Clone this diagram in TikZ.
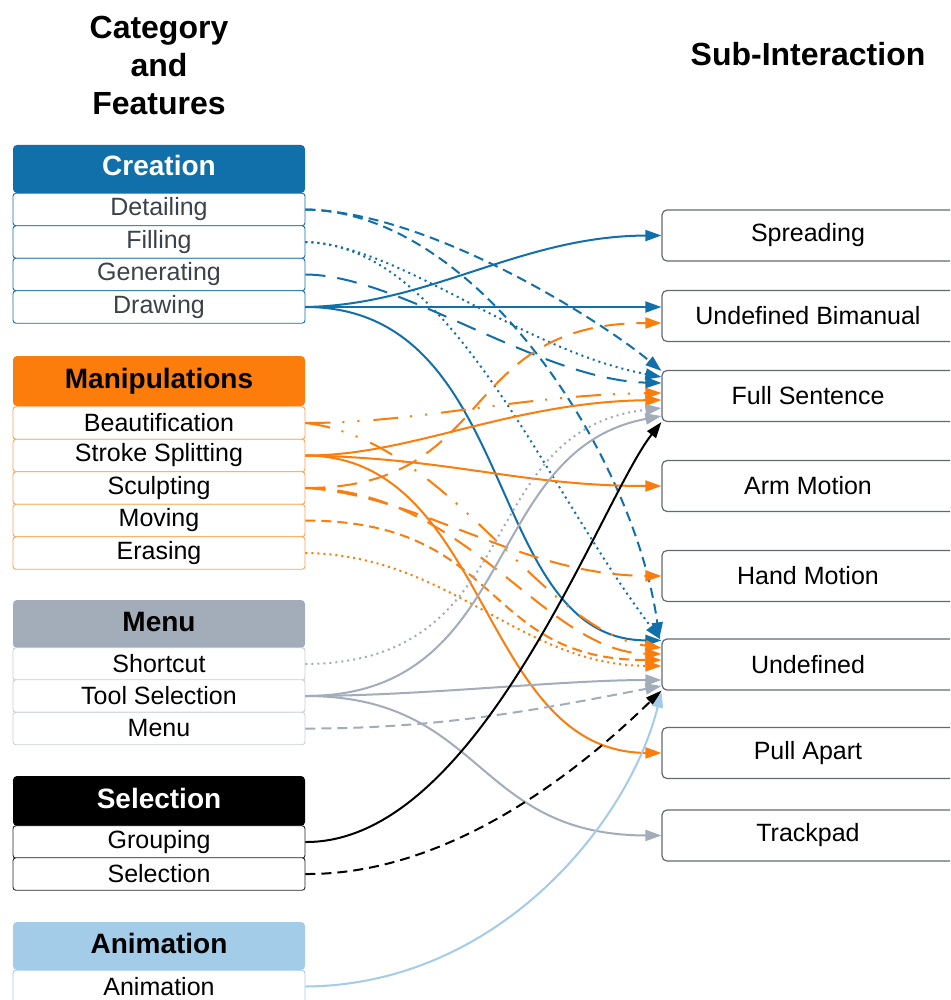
\documentclass[tikz,border=0pt]{standalone}
\usepackage{fontspec}
\setmainfont{Liberation Sans}
\usetikzlibrary{arrows.meta}
\definecolor{cblue}{RGB}{17,112,170}
\definecolor{corange}{RGB}{252,125,11}
\definecolor{cgrey}{RGB}{163,172,185}
\definecolor{clblue}{RGB}{163,204,233}
\definecolor{itemtxt}{RGB}{60,66,74}
\definecolor{rbord}{RGB}{100,105,112}
\definecolor{mborder}{RGB}{200,208,217}
\newcommand{\sublabel}[1]{\makebox[292pt]{#1}\hspace*{18pt}}
\begin{document}
\begin{tikzpicture}[x=1pt,y=-1pt,
  hdr/.style={draw=none, rounded corners=4pt, minimum width=292pt, inner sep=0pt, text height=20pt, text depth=6pt, font=\fontsize{28}{32}\selectfont\bfseries},
  item/.style={draw, line width=0.9pt, rounded corners=3pt, minimum width=292pt, minimum height=32.5pt, inner sep=0pt, fill=white, font=\fontsize{25}{29}\selectfont},
  sub/.style={draw=rbord, line width=1.2pt, rounded corners=5pt, minimum height=51pt, inner sep=0pt, fill=white, font=\fontsize{25}{29}\selectfont},
  ttl/.style={font=\fontsize{32}{38}\selectfont\bfseries, align=center},
  conn/.style={line width=2pt, -{Triangle[length=16pt,width=11pt]}},
  dsh/.style={dash pattern=on 10pt off 6pt},
  dtt/.style={dash pattern=on 2pt off 4pt},
  ldsh/.style={dash pattern=on 20pt off 12pt},
  ddd/.style={dash pattern=on 25pt off 12pt on 2pt off 13pt on 2pt off 14pt},
]
\useasboundingbox (0,0) rectangle (950,1000);
\clip (0,0) rectangle (950,1000);
\fill[white] (0,0) rectangle (950,1000);

% titles
\node[ttl] (t1) at (159,65) {Category\\and\\Features};
\node[ttl] (t2) at (808,54) {Sub-Interaction};

% Creation
\node[hdr, fill=cblue, text=white, minimum height=48pt] (hcre) at (159,169) {Creation};
\node[item, draw=cblue, text=itemtxt] (det) at (159,209.5) {Detailing};
\node[item, draw=cblue, text=itemtxt] (fil) at (159,242) {Filling};
\node[item, draw=cblue, text=itemtxt] (gen) at (159,274.5) {Generating};
\node[item, draw=cblue, text=itemtxt] (drw) at (159,307) {Drawing};

% Manipulations
\node[hdr, fill=corange, text=black, minimum height=50pt] (hman) at (159,381) {Manipulations};
\node[item, draw=corange!70] (beau) at (159,423) {Beautification};
\node[item, draw=corange!70] (ssp) at (159,455.5) {Stroke Splitting};
\node[item, draw=corange!70] (scu) at (159,488) {Sculpting};
\node[item, draw=corange!70] (mov) at (159,520.5) {Moving};
\node[item, draw=corange!70] (era) at (159,553) {Erasing};

% Menu
\node[hdr, fill=cgrey, text=black, minimum height=48pt] (hmen) at (159,624) {Menu};
\node[item, draw=mborder] (sho) at (159,664) {Shortcut};
\node[item, draw=mborder] (tsel) at (159,696) {Tool Selection};
\node[item, draw=mborder] (menu) at (159,728.5) {Menu};

% Selection
\node[hdr, fill=black, text=white, minimum height=50pt] (hsel) at (159,801) {Selection};
\node[item, draw=black!85] (grp) at (159,842) {Grouping};
\node[item, draw=black!85] (sel) at (159,874) {Selection};

% Animation
\node[hdr, fill=clblue, text=black, minimum height=48pt] (hani) at (159,946) {Animation};
\node[item, draw=clblue] (ani) at (159,986.5) {Animation};

% Sub-interactions (box runs past the right edge of the picture)
\node[sub] (sp) at (817,235.5) {\sublabel{Spreading}};
\node[sub] (ub) at (817,316) {\sublabel{Undefined Bimanual}};
\node[sub] (fs) at (817,396) {\sublabel{Full Sentence}};
\node[sub] (am) at (817,486) {\sublabel{Arm Motion}};
\node[sub] (hm) at (817,576) {\sublabel{Hand Motion}};
\node[sub] (un) at (817,664.5) {\sublabel{Undefined}};
\node[sub] (pa) at (817,753) {\sublabel{Pull Apart}};
\node[sub] (tp) at (817,835.5) {\sublabel{Trackpad}};

% Creation connectors
\draw[conn, cblue, dsh] (det.east) .. controls (430,212) and (600,320) .. ([yshift=-1pt]fs.north west);
\draw[conn, cblue, dsh] (det.east) .. controls (480,212) and (635,460) .. ([xshift=-2pt]un.north west);
\draw[conn, cblue, dtt] (fil.east) .. controls (400,245) and (520,350) .. ([yshift=19pt]fs.west);
\draw[conn, cblue, dtt] (fil.east) .. controls (450,245) and (540,480) .. ([xshift=-1pt,yshift=-1pt]un.north west);
\draw[conn, cblue, ldsh] (gen.east) .. controls (400,275) and (540,380) .. ([yshift=13pt]fs.west);
\draw[conn, cblue] (drw.east) .. controls (430,305) and (520,236) .. (sp.west);
\draw[conn, cblue] (drw.east) -- ([yshift=9pt]ub.west);
\draw[conn, cblue] (drw.east) .. controls (522,307) and (482,640) .. ([yshift=-2pt]un.north west);

% Manipulation connectors
\draw[conn, corange, ddd] (beau.east) .. controls (420,423) and (520,395) .. ([yshift=3pt]fs.west);
\draw[conn, corange, ddd] (beau.east) .. controls (450,440) and (540,630) .. ([yshift=16.5pt]un.west);
\draw[conn, corange] (ssp.east) .. controls (410,456) and (510,402) .. ([yshift=-4pt]fs.west);
\draw[conn, corange] (ssp.east) .. controls (450,458) and (520,486) .. (am.west);
\draw[conn, corange] (ssp.east) .. controls (490,456) and (479,752) .. (pa.west);
\draw[conn, corange, ldsh] (scu.east) .. controls (498,488) and (455,323) .. ([yshift=-7pt]ub.west);
\draw[conn, corange, ldsh] (scu.east) .. controls (420,495) and (520,575) .. (hm.west);
\draw[conn, corange, ldsh] (scu.east) .. controls (468,490) and (544,652) .. ([yshift=10.5pt]un.west);
\draw[conn, corange, dsh] (mov.east) .. controls (506,521) and (479,660) .. ([yshift=4.5pt]un.west);
\draw[conn, corange, dtt] (era.east) .. controls (450,555) and (520,665) .. ([yshift=-1.5pt]un.west);

% Menu connectors
\draw[conn, cgrey, dtt] (sho.east) .. controls (530,663) and (470,430) .. ([yshift=-12pt]fs.west);
\draw[conn, cgrey] (tsel.east) .. controls (520,696) and (480,450) .. ([yshift=-20pt]fs.west);
\draw[conn, cgrey] (tsel.east) .. controls (420,696) and (560,680) .. ([yshift=-15.5pt]un.west);
\draw[conn, cgrey] (tsel.east) .. controls (485,696) and (473,835) .. (tp.west);
\draw[conn, cgrey, dsh] (menu.east) .. controls (450,729) and (560,705) .. ([yshift=-21.5pt]un.west);

% Selection connectors
\draw[conn, black] (grp.east) .. controls (480,843) and (600,500) .. (fs.south west);
\draw[conn, black, dsh] (sel.east) .. controls (450,875) and (580,770) .. (un.south west);

% Animation connector
\draw[conn, clblue] (ani.east) .. controls (500,985) and (630,820) .. ([yshift=-1pt]un.south west);
\end{tikzpicture}
\end{document}
